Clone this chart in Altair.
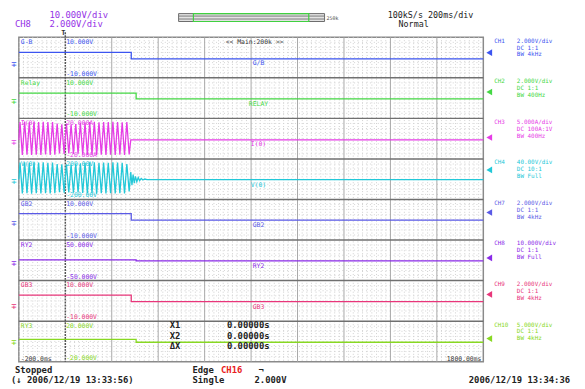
import altair as alt
import pandas as pd
import numpy as np

# ---------------- data ----------------
NAMES = ["G-B", "Relay", "I(0)", "V(0)", "GB2", "RY2", "GB3", "RY3"]
CHANNELS = ["CH1", "CH2", "CH3", "CH4", "CH7", "CH8", "CH9", "CH10"]
COLORS = ["#3c55f0", "#44d844", "#e63ce6", "#22c8d8", "#5a5ae6", "#8a2be8", "#e8367a", "#88d822"]
TOPS = [10, 10, 20, 200, 10, 50, 10, 20]
TOP_LBL = ["10.000V", "10.000V", "20.000A", "200.00V", "10.000V", "50.000V", "10.000V", "20.000V"]
BOT_LBL = ["-10.000V", "-10.000V", "-20.000A", "-200.00V", "-10.000V", "-50.000V", "-10.000V", "-20.000V"]
CENTER_LBL = ["G/B", "RELAY", "I(0)", "V(0)", "GB2", "RY2", "GB3", ""]
CH_SCALE = ["2.000V/div", "2.000V/div", "5.000A/div", "40.00V/div", "2.000V/div", "10.000V/div", "2.000V/div", "5.000V/div"]
CH_CPL = ["DC   1:1", "DC   1:1", "DC  100A:1V", "DC  10:1", "DC   1:1", "DC   1:1", "DC   1:1", "DC   1:1"]
CH_BW = ["BW 4kHz", "BW 400Hz", "BW 400Hz", "BW Full", "BW 4kHz", "BW Full", "BW 4kHz", "BW 4kHz"]
LEVEL_V = [2.4, 3.0, 1.2, 92, 3.6, 6.0, 3.2, 2.8]          # right-hand level markers
GROUND_V = [-3.2, -1.6, -3.2, -20, -1.8, -6.0, -2.6, -0.4]  # left-hand offset markers

# step channels (ms, value)
GB_T = [-200, 284, 284, 1800];    GB_V = [2.6, 2.6, -0.7, -0.7]
RELAY_T = [-200, 305, 305, 1800]; RELAY_V = [2.4, 2.4, -0.4, -0.4]
GB2_T = [-200, 284, 284, 1800];   GB2_V = [3.0, 3.0, -0.2, -0.2]
RY2_T = [-200, 305, 305, 1800];   RY2_V = [1.0, 1.0, -1.6, -1.6]
GB3_T = [-200, 284, 284, 1800];   GB3_V = [2.8, 2.8, -0.4, -0.4]
RY3_T = [-200, 305, 305, 1800];   RY3_V = [2.0, 2.0, -0.8, -0.8]

# oscillating channels: half-cycle peak times (ms)
OSC_T = [-195, -185, -175, -165, -155, -145, -135, -125, -115, -105, -95, -85,
         -75, -65, -55, -45, -35, -25, -15, -5, 5, 15, 25, 35,
         45, 55, 65, 75, 85, 95, 105, 115, 125, 135, 145, 155,
         165, 175, 185, 195, 205, 215, 225, 235, 245, 255, 265, 275]
I0_PEAKS = [16.5, -16.0, 16.8, -15.8, 16.2, -16.2, 16.6, -15.9, 16.4, -16.1, 16.7, -15.7,
            16.3, -16.0, 16.5, -15.9, 15.0, -14.5, 14.2, -15.0, 14.8, -14.6, 14.0, -15.2,
            14.5, -14.8, 15.5, -15.6, 16.0, -16.0, 16.4, -15.8, 16.6, -16.2, 16.2, -15.9,
            16.5, -16.0, 16.3, -15.8, 16.6, -16.1, 16.4, -15.9, 16.2, -16.0, 16.5, -15.5]
I0_AFTER_T = [282, 1800]; I0_AFTER_V = [-1.2, -1.2]
V0_PEAKS = [165, -140, 168, -138, 162, -142, 166, -139, 164, -141, 167, -137,
            163, -140, 165, -139, 150, -128, 146, -132, 148, -130, 144, -134,
            150, -131, 158, -136, 162, -140, 166, -138, 168, -142, 162, -139,
            165, -140, 163, -138, 166, -141, 164, -139, 162, -140, 150, -120]
V0_RING_T = [282, 287, 292, 297, 302, 308, 314, 320, 327, 334, 342, 352, 1800]
V0_RING_V = [70, -60, 45, -40, 28, -25, 16, -14, 8, -8, 2, -4, -4]

# ---------------- geometry ----------------
W, H = 471, 329
X0, Y0 = 19, 35
T_MIN, T_MAX = -200, 1800
NS = 8
FONT = "DejaVu Sans Mono"


def px_t(x):
    return (x - X0) / W * (T_MAX - T_MIN) + T_MIN


def py_s(y):
    return (y - Y0) / H * NS


def to_s(k, v):
    return k + (TOPS[k] - v) / (2 * TOPS[k])


series = [
    (GB_T, GB_V),
    (RELAY_T, RELAY_V),
    ([-200] + OSC_T + I0_AFTER_T, [-1.2] + I0_PEAKS + I0_AFTER_V),
    ([-200] + OSC_T + V0_RING_T, [-4] + V0_PEAKS + V0_RING_V),
    (GB2_T, GB2_V),
    (RY2_T, RY2_V),
    (GB3_T, GB3_V),
    (RY3_T, RY3_V),
]
rows = []
for k, (ts, vs) in enumerate(series):
    for i, (t, v) in enumerate(zip(ts, vs)):
        rows.append({"ch": CHANNELS[k], "t": t, "s": to_s(k, v), "i": i, "color": COLORS[k]})
trace_df = pd.DataFrame(rows)

XS = alt.Scale(domain=[T_MIN, T_MAX], nice=False, zero=False)
YS = alt.Scale(domain=[0, NS], reverse=True, nice=False, zero=False)


def X(f="t"):
    return alt.X(f"{f}:Q", scale=XS, axis=None)


def Y(f="s"):
    return alt.Y(f"{f}:Q", scale=YS, axis=None)


layers = []

# ---- grid ----
minor_v = pd.DataFrame({"t": [t for t in range(-180, 1800, 20) if t % 200 != 0], "s0": 0.0, "s1": float(NS)})
layers.append(alt.Chart(minor_v).mark_rule(color="#cfcfcf", strokeDash=[1, 2], strokeWidth=1).encode(
    x=X(), y=Y("s0"), y2="s1"))
minor_h = pd.DataFrame({"s": [k + f / 8 for k in range(NS) for f in range(1, 8)], "t0": T_MIN, "t1": T_MAX})
layers.append(alt.Chart(minor_h).mark_rule(color="#d2d2d2", strokeDash=[1, 3], strokeWidth=1).encode(
    y=Y(), x=X("t0"), x2="t1"))
major_v = pd.DataFrame({"t": [t for t in range(200, 1800, 200)], "s0": 0.0, "s1": float(NS)})
layers.append(alt.Chart(major_v).mark_rule(color="#a8a8a8", strokeWidth=1).encode(x=X(), y=Y("s0"), y2="s1"))
sep = pd.DataFrame({"s": list(range(1, NS)), "t0": T_MIN, "t1": T_MAX})
layers.append(alt.Chart(sep).mark_rule(color="#707070", strokeWidth=1.5).encode(y=Y(), x=X("t0"), x2="t1"))
trig = pd.DataFrame({"t": [0], "s0": [py_s(30)], "s1": [float(NS)]})
layers.append(alt.Chart(trig).mark_rule(color="#555555", strokeDash=[2, 1], strokeWidth=1.5).encode(
    x=X(), y=Y("s0"), y2="s1"))

# ---- traces ----
layers.append(alt.Chart(trace_df).mark_line(strokeWidth=1.3).encode(
    x=X(), y=Y(), detail="ch:N", order="i:Q", color=alt.Color("color:N", scale=None)))

# ---- markers ----
lvl = pd.DataFrame({"t": px_t(496), "s": [to_s(k, LEVEL_V[k]) for k in range(NS)], "color": COLORS})
layers.append(alt.Chart(lvl).mark_point(shape="triangle-left", filled=True, size=45, opacity=1).encode(
    x=X(), y=Y(), color=alt.Color("color:N", scale=None)))
gnd = pd.DataFrame({"t": px_t(14), "s": [to_s(k, GROUND_V[k]) for k in range(NS)], "color": COLORS, "text": "∓"})
layers.append(alt.Chart(gnd).mark_text(font=FONT, fontSize=9, baseline="middle", align="center").encode(
    x=X(), y=Y(), text="text:N", color=alt.Color("color:N", scale=None)))

# ---- zoom bar ----
bar = pd.DataFrame({"t0": [px_t(181)], "t1": [px_t(329)], "s0": [py_s(11)], "s1": [py_s(19)]})
layers.append(alt.Chart(bar).mark_rect(fill="#e4e4e4", stroke="#6a6a6a", strokeWidth=1).encode(
    x=X("t0"), x2="t1", y=Y("s0"), y2="s1"))
barl = pd.DataFrame({"s": [py_s(13.5), py_s(16.5)], "t0": px_t(181), "t1": px_t(329)})
layers.append(alt.Chart(barl).mark_rule(color="#7a7a7a", strokeWidth=1).encode(y=Y(), x=X("t0"), x2="t1"))
gbar = pd.DataFrame({"t0": [px_t(196)], "t1": [px_t(313)], "s0": [py_s(11)], "s1": [py_s(19)]})
layers.append(alt.Chart(gbar).mark_rect(fill="none", stroke="#40d040", strokeWidth=1.2).encode(
    x=X("t0"), x2="t1", y=Y("s0"), y2="s1"))

# ---- texts ----
ann = []


def add(x, y, text, color="#222222", size=7, align="left", weight="normal", data=False):
    ann.append({"t": x if data else px_t(x), "s": y if data else py_s(y), "text": text, "color": color,
                "size": size, "align": align, "weight": weight})


for k in range(NS):
    add(px_t(21), k + 0.12, NAMES[k], COLORS[k], 6.5, data=True)
    add(px_t(67), k + 0.12, TOP_LBL[k], COLORS[k], 6.5, data=True)
    add(px_t(67), k + 0.9, BOT_LBL[k], COLORS[k], 6.5, data=True)
    if CENTER_LBL[k]:
        add(px_t(262), k + 0.64, CENTER_LBL[k], COLORS[k], 6.5, align="center", data=True)
    top = Y0 + k * H / NS
    add(501, top + 3.5, CHANNELS[k], COLORS[k], 6)
    add(524, top + 3.5, CH_SCALE[k], COLORS[k], 6)
    add(524, top + 10.5, CH_CPL[k], COLORS[k], 6)
    add(524, top + 17.5, CH_BW[k], COLORS[k], 6)

PURPLE = "#9430e6"
add(50, 12.5, "10.000V/div", PURPLE, 9)
add(15, 21.5, "CH8", PURPLE, 9)
add(50, 21.5, "2.000V/div", PURPLE, 9)
add(64, 31, "T", "#333333", 7, align="center", weight="bold")
add(393, 12.5, "100kS/s 200ms/div", "#222222", 8.5)
add(404, 22, "Normal", "#222222", 8.5)
add(331, 15, "250k", "#444444", 5)
add(258, 40, "<< Main:200k >>", "#333333", 6.5, align="center")
add(21, 361, "-200.0ms", "#333333", 6.5)
add(488, 361, "1800.00ms", "#333333", 6.5, align="right")
for yy, lab in zip([327, 337.5, 348], ["X1", "X2", "ΔX"]):
    add(172, yy, lab, "#222222", 9, weight="bold")
    add(230, yy, "0.00000s", "#222222", 9, weight="bold")
add(15, 372, "Stopped", "#222222", 9, weight="bold")
add(11, 382.5, "(↓ 2006/12/19 13:33:56)", "#222222", 9, weight="bold")
add(195, 372, "Edge", "#222222", 9, weight="bold")
add(224, 372, "CH16", "#e82020", 9, weight="bold")
add(262, 372, "¬", "#222222", 9, weight="bold")
add(195, 382.5, "Single", "#222222", 9, weight="bold")
add(258, 382.5, "2.000V", "#222222", 9, weight="bold")
add(578, 382.5, "2006/12/19 13:34:36", "#222222", 9, align="right", weight="bold")

ann_df = pd.DataFrame(ann)
for al in ["left", "center", "right"]:
    for wt in ["normal", "bold"]:
        sub = ann_df[(ann_df["align"] == al) & (ann_df["weight"] == wt)]
        if len(sub) == 0:
            continue
        layers.append(alt.Chart(sub).mark_text(font=FONT, align=al, baseline="middle", fontWeight=wt).encode(
            x=X(), y=Y(), text="text:N", color=alt.Color("color:N", scale=None),
            size=alt.Size("size:Q", scale=None)))

TOTAL_W, TOTAL_H = 577, 381
chart = alt.layer(*layers).resolve_scale(color="independent", size="independent").properties(
    width=W, height=H,
    padding={"left": X0 - 8, "top": Y0 - 8, "right": TOTAL_W - (X0 - 8) - W, "bottom": TOTAL_H - (Y0 - 8) - H},
    autosize=alt.AutoSizeParams(type="none"),
    background="white",
).configure_view(stroke="#8a8a8a", strokeWidth=1.5)

chart.save("out.html", embed_options={"renderer": "svg", "actions": False})
